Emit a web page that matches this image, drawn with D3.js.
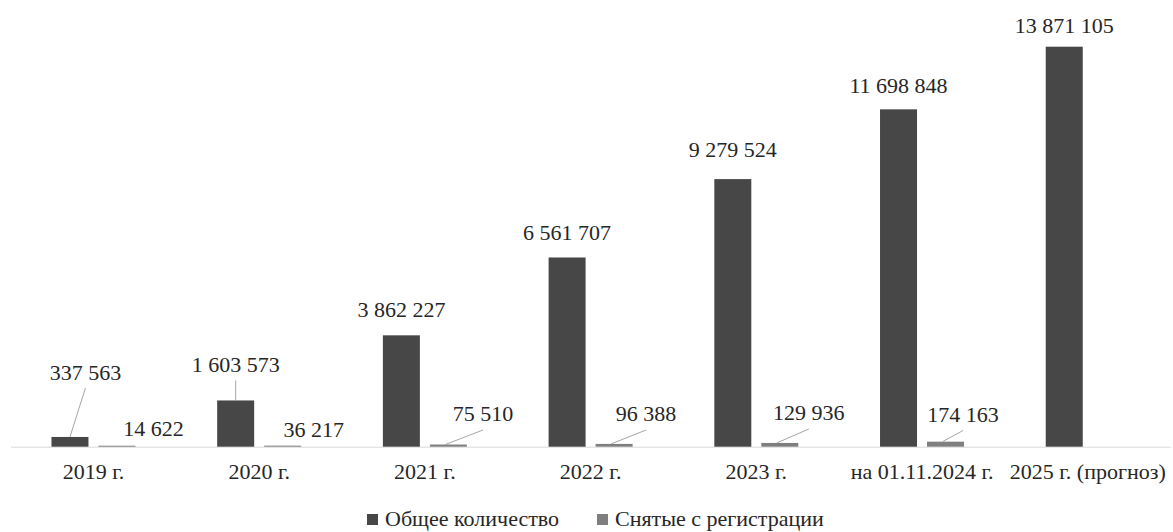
<!DOCTYPE html>
<html>
<head>
<meta charset="utf-8">
<script src="https://cdn.jsdelivr.net/npm/d3@7"></script>
<style>
  body { margin: 0; background: #fff; }
  svg text { fill: #262626; }
</style>
</head>
<body>
<div id="chart"></div>
<script>
// data
const categories = ['2019 г.', '2020 г.', '2021 г.', '2022 г.', '2023 г.', 'на 01.11.2024 г.', '2025 г. (прогноз)'];
const series = ['Общее количество', 'Снятые с регистрации'];
const totalCount = [337563, 1603573, 3862227, 6561707, 9279524, 11698848, 13871105];
const deregistered = [14622, 36217, 75510, 96388, 129936, 174163, null];

// label placement (dragged by hand in the original), dx from bar centre, dy = baseline above bar top
const totalLabelDx = [15.5, 0, 0, 0, 0, 0, 0];
const totalLabelDy = [57, 28, 18, 17, 22, 16, 14];
const totalLeader = [true, true, false, false, false, false, false];
const deregLabelDx = [36.5, 31, 34.5, 32, 29, 17.5];
const deregLabelBase = [436, 437, 421, 421, 420, 421.5];
const deregLeader = [false, false, true, true, true, true];

const colours = ['#474747', '#7f7f7f'];
const serifFont = '"Liberation Serif", "Times New Roman", Times, serif';
const fmt = v => d3.format(',')(v).replace(/,/g, ' ');

let width = 1173,
    height = 532,
    baseline = 446.7,
    fontSize = 22;

let svg = d3.select('#chart').append('svg')
    .attr('width', width)
    .attr('height', height)
    .style('font-family', serifFont);

let x0 = d3.scaleBand()
    .domain(categories)
    .range([10.6, 1170.6]);

let groupWidth = 84;
let x1 = d3.scaleBand()
    .domain(series)
    .range([0, groupWidth])
    .paddingInner(0.213);
let groupOffset = (x0.bandwidth() - groupWidth) / 2;

let y = d3.scaleLinear()
    .domain([0, 14000000])
    .range([baseline, baseline - 14000000 * 400 / 13871105]);

function barX(cat, s) { return x0(cat) + groupOffset + x1(s); }
function barCx(cat, s) { return barX(cat, s) + x1.bandwidth() / 2; }

// axis line
let xAxis = d3.axisBottom(x0).tickSize(0).tickPadding(16.5);
let axisG = svg.append('g')
    .attr('transform', 'translate(0,' + baseline + ')')
    .call(xAxis)
    .attr('font-family', serifFont)
    .attr('font-size', fontSize);
axisG.select('.domain').attr('stroke', '#d9d9d9').attr('stroke-width', 1);
axisG.selectAll('text').attr('fill', '#262626');

let bars = [totalCount, deregistered];

// bars
bars.forEach(function(vals, si) {
  svg.append('g').selectAll('rect')
      .data(vals.map((v, i) => ({cat: categories[i], v: v})).filter(d => d.v != null))
    .enter().append('rect')
      .attr('x', d => barX(d.cat, series[si]))
      .attr('width', x1.bandwidth())
      .attr('y', d => baseline - Math.max(1, y(0) - y(d.v)))
      .attr('height', d => Math.max(1, y(0) - y(d.v)))
      .attr('fill', colours[si]);
});

// value labels: total
let lbl = svg.append('g').attr('font-family', serifFont).attr('font-size', fontSize);
totalCount.forEach(function(v, i) {
  let cx = barCx(categories[i], series[0]);
  let tx = cx + totalLabelDx[i];
  let ty = y(v) - totalLabelDy[i];
  if (totalLeader[i]) {
    lbl.append('line')
      .attr('x1', tx).attr('y1', ty + 8)
      .attr('x2', cx).attr('y2', y(v))
      .attr('stroke', '#a6a6a6').attr('stroke-width', 1);
  }
  lbl.append('text')
    .attr('x', tx).attr('y', ty)
    .attr('text-anchor', 'middle')
    .text(fmt(v));
});

// value labels: deregistered
deregistered.forEach(function(v, i) {
  if (v == null) return;
  let cx = barCx(categories[i], series[1]);
  let tx = cx + deregLabelDx[i];
  let ty = deregLabelBase[i];
  if (deregLeader[i]) {
    lbl.append('line')
      .attr('x1', tx).attr('y1', ty + 9)
      .attr('x2', cx - 3).attr('y2', Math.min(y(v), baseline - 1))
      .attr('stroke', '#a6a6a6').attr('stroke-width', 1);
  }
  lbl.append('text')
    .attr('x', tx).attr('y', ty)
    .attr('text-anchor', 'middle')
    .text(fmt(v));
});

// legend
let legendX = [367, 597];
let legend = svg.append('g').attr('font-family', serifFont).attr('font-size', fontSize);
series.forEach(function(s, i) {
  legend.append('rect')
    .attr('x', legendX[i]).attr('y', 514)
    .attr('width', 11).attr('height', 11)
    .attr('fill', colours[i]);
  legend.append('text')
    .attr('x', legendX[i] + 18).attr('y', 526)
    .text(s);
});
</script>
</body>
</html>
